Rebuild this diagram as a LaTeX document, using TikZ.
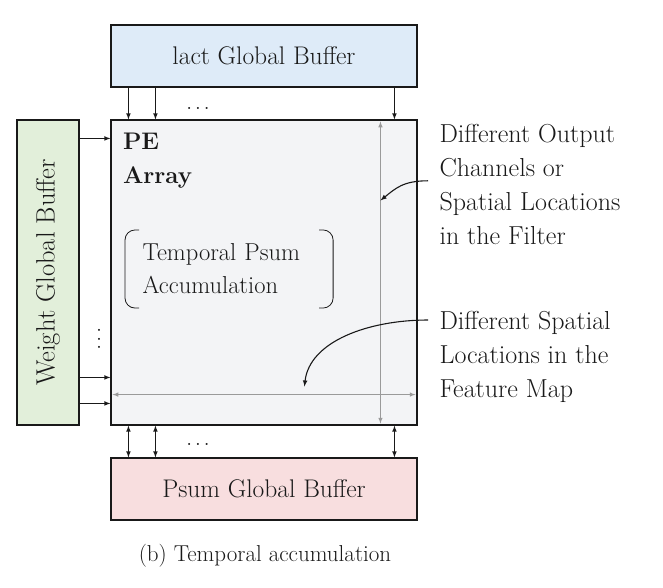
\documentclass[tikz,border=0pt]{standalone}
\usepackage{fontspec}
\usetikzlibrary{positioning}
\definecolor{iactblue}{HTML}{DEEBF8}
\definecolor{weightgreen}{HTML}{E2EFDA}
\definecolor{psumpink}{HTML}{F8DEDF}
\definecolor{pegray}{HTML}{F3F4F6}
\definecolor{linegray}{HTML}{9A9A9A}
\begin{document}
\begin{tikzpicture}[x=1pt, y=-1pt, -latex, line width=1.1pt, color=black!90,
font=\fontsize{25.5}{34}\selectfont,
buffer/.style={draw, minimum width=306pt, minimum height=62pt, inner sep=0pt},
note/.style={align=left, anchor=north west, inner sep=0pt, font=\fontsize{26}{34}\selectfont},
dots/.style={inner sep=0pt, font=\fontsize{25}{30}\selectfont},
grayarrow/.style={latex-latex, draw=linegray, line width=1pt}]
\useasboundingbox (0,0) rectangle (663,587);

\node[buffer, fill=iactblue] (iact) at (264,56) {lact Global Buffer};
\node[draw, fill=pegray, minimum width=306pt, minimum height=305pt] (pe) at (264,272.5) {};
\node[draw, fill=weightgreen, minimum width=62pt, minimum height=305pt] (weight) at (48,272.5) {};
\node[rotate=90, font=\fontsize{26.5}{34}\selectfont] (weightlabel) at (weight) {Weight Global Buffer};
\node[buffer, fill=psumpink] (psum) at (264,489) {Psum Global Buffer};

% links to and from the PE array
\foreach \dx in {18,45,284}{
  \draw ([xshift=\dx pt]iact.south west) -- ([xshift=\dx pt]pe.north west);
  \draw[latex-latex] ([xshift=\dx pt]pe.south west) -- ([xshift=\dx pt]psum.north west);
}
\foreach \dy in {19,258,284}
  \draw ([yshift=-\dy pt]weight.north east) -- ([yshift=-\dy pt]pe.north west);
\node[dots, anchor=base] (topdots) at (198,109) {.\kern2.5pt.\kern2.5pt.};
\node[dots, anchor=base] (botdots) at (198,445) {.\kern2.5pt.\kern2.5pt.};
\node[dots, rotate=90, anchor=base] (sidedots) at (100,339) {.\kern2.5pt.\kern2.5pt.};

% inside the array
\draw[grayarrow] ([xshift=270pt,yshift=-2pt]pe.north west) -- ([xshift=270pt,yshift=2pt]pe.south west);
\draw[grayarrow] ([xshift=2pt,yshift=31pt]pe.south west) -- ([xshift=-2pt,yshift=31pt]pe.south east);
\coordinate (filtertip) at ([xshift=270pt,yshift=-81pt]pe.north west);
\coordinate (fmaptip) at ([xshift=194pt,yshift=39pt]pe.south west);
\node[note, font=\fontsize{24}{34}\selectfont\bfseries] (pelabel) at ([xshift=12pt,yshift=-13pt]pe.north west) {PE\\Array};
\node[anchor=west, minimum height=77pt, inner xsep=17pt, text width=173pt, align=left, font=\fontsize{24.5}{33}\selectfont] (accum) at (125,269) {Temporal Psum\\Accumulation};
\draw[-, rounded corners=10pt, line width=0.8pt] ([xshift=14pt]accum.north west) -- (accum.north west) -- (accum.south west) -- ([xshift=14pt]accum.south west);
\draw[-, rounded corners=10pt, line width=0.8pt] ([xshift=-14pt]accum.north east) -- (accum.north east) -- (accum.south east) -- ([xshift=-14pt]accum.south east);

% notes on the right
\node[note] (filter) at (439,124) {Different Output\\Channels or\\Spatial Locations\\in the Filter};
\node[note] (fmap) at (439,311) {Different Spatial\\Locations in the\\Feature Map};
\draw ([xshift=-11pt,yshift=4pt]filter.west) .. controls +(-25,0) and +(15,-12) .. (filtertip);
\draw ([xshift=-11pt,yshift=-9pt]fmap.north west) .. controls +(-60,0) and +(5,-45) .. (fmaptip);

\node[anchor=base, font=\fontsize{23}{30}\selectfont] (caption) at (265,561) {(b) Temporal accumulation};
\end{tikzpicture}
\end{document}
